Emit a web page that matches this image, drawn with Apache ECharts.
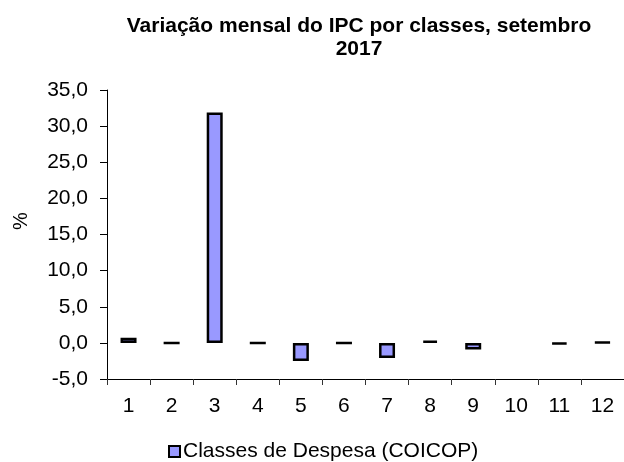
<!DOCTYPE html>
<html>
<head>
<meta charset="utf-8">
<script src="https://cdn.jsdelivr.net/npm/echarts@6/dist/echarts.min.js"></script>
<style>
  html, body { margin: 0; padding: 0; background: #fff; }
  #chart { width: 624px; height: 462px; }
</style>
</head>
<body>
<div id="chart"></div>
<script>
// categorias COICOP
var classes = ['1', '2', '3', '4', '5', '6', '7', '8', '9', '10', '11', '12'];
// variação mensal (%)
var variacao = [0.7, 0.0, 31.9, 0.0, -2.5, 0.0, -2.1, 0.3, -0.9, null, -0.2, 0.1];
var serieNome = 'Classes de Despesa (COICOP)';

var chart = echarts.init(document.getElementById('chart'));
var fonte = 'Liberation Sans, Arial, sans-serif';

var option = {
  animation: false,
  title: {
    text: 'Variação mensal do IPC por classes, setembro\n2017',
    left: 359,
    top: 15,
    padding: 0,
    textAlign: 'center',
    textStyle: { fontFamily: fonte, fontSize: 21, fontWeight: 'bold', color: '#000', lineHeight: 23 }
  },
  legend: {
    data: [serieNome],
    left: 168,
    top: 441,
    padding: 0,
    icon: 'rect',
    itemWidth: 11,
    itemHeight: 11,
    itemStyle: { borderColor: '#000', borderWidth: 2 },
    textStyle: { fontFamily: fonte, fontSize: 21, color: '#000', padding: [0, 0, 0, -2] }
  },
  graphic: [
    {
      type: 'text',
      x: 21,
      y: 221,
      rotation: Math.PI / 2,
      style: { text: '%', fontFamily: fonte, fontSize: 20, fill: '#000', align: 'center', verticalAlign: 'middle' }
    }
  ],
  grid: { left: 107, right: -6, top: 90, bottom: 83, containLabel: false },
  xAxis: [
    {
      type: 'category',
      data: classes,
      position: 'bottom',
      axisLine: { show: false },
      axisTick: { show: false },
      axisLabel: { fontFamily: fonte, fontSize: 21, color: '#000', margin: 17 }
    },
    {
      type: 'category',
      data: classes,
      position: 'bottom',
      axisLine: { onZero: true, lineStyle: { color: '#000', width: 1 } },
      axisTick: { show: true, length: 6, lineStyle: { color: '#333' } },
      axisLabel: { show: false }
    }
  ],
  yAxis: {
    type: 'value',
    min: -5,
    max: 35,
    interval: 5,
    axisLine: { show: true, lineStyle: { color: '#000' } },
    axisTick: { show: true, inside: false, length: 7, lineStyle: { color: '#000' } },
    splitLine: { show: false },
    axisLabel: {
      fontFamily: fonte, fontSize: 21, color: '#000', margin: 19,
      formatter: function (v) { return v.toFixed(1).replace('.', ','); }
    }
  },
  series: [
    {
      name: serieNome,
      type: 'bar',
      xAxisIndex: 1,
      data: variacao,
      barWidth: 16,
      itemStyle: { color: '#9999ff', borderColor: '#000', borderWidth: 2.5 }
    }
  ]
};

chart.setOption(option);
</script>
</body>
</html>
